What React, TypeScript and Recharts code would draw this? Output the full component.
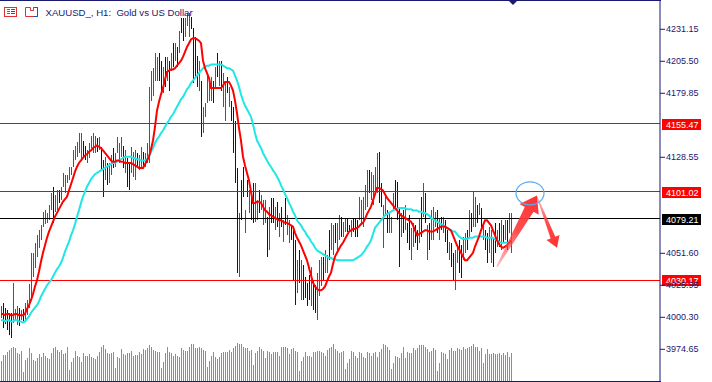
import {
  ComposedChart,
  Bar,
  Cell,
  Line,
  XAxis,
  YAxis,
  ReferenceLine,
  ReferenceDot,
} from 'recharts'

// XAUUSD H1 bars (oldest first)
const HIGH = [
  4009, 4012, 4008, 4006, 4004, 4004, 4028, 4007, 4009, 4008, 4006, 4007, 4012, 4014, 4027,
  4052, 4052, 4060, 4066, 4070, 4074, 4085, 4086, 4084, 4090, 4100, 4105, 4098, 4102, 4102,
  4105, 4116, 4114, 4114, 4121, 4121, 4134, 4138, 4141, 4148, 4148, 4142, 4138, 4134, 4140,
  4146, 4148, 4146, 4144, 4145, 4137, 4126, 4129, 4124, 4124, 4130, 4136, 4132, 4145, 4140,
  4145, 4138, 4134, 4128, 4124, 4137, 4133, 4134, 4132, 4130, 4137, 4133, 4132, 4140, 4185,
  4198, 4200, 4212, 4209, 4212, 4206, 4201, 4209, 4209, 4206, 4212, 4220, 4220, 4217, 4230,
  4240, 4240, 4240, 4244, 4244, 4241, 4232, 4225, 4210, 4206, 4190, 4169, 4172, 4196, 4190,
  4193, 4190, 4201, 4212, 4206, 4206, 4196, 4190, 4193, 4185, 4174, 4169, 4158, 4120, 4084,
  4110, 4121, 4086, 4110, 4102, 4100, 4108, 4108, 4094, 4102, 4098, 4094, 4094, 4081, 4089,
  4096, 4096, 4089, 4093, 4084, 4089, 4078, 4096, 4082, 4078, 4074, 4070, 4062, 4046, 4054,
  4046, 4042, 4033, 4028, 4034, 4041, 4030, 4026, 4036, 4046, 4049, 4049, 4054, 4050, 4070,
  4076, 4074, 4076, 4076, 4082, 4081, 4077, 4080, 4080, 4074, 4078, 4080, 4080, 4078, 4097,
  4094, 4097, 4106, 4118, 4118, 4117, 4114, 4121, 4132, 4133, 4108, 4090, 4098, 4086, 4084,
  4081, 4100, 4110, 4109, 4089, 4084, 4086, 4090, 4076, 4082, 4072, 4076, 4074, 4070, 4080,
  4097, 4108, 4100, 4074, 4076, 4086, 4089, 4085, 4086, 4080, 4081, 4081, 4078, 4070, 4061,
  4060, 4052, 4054, 4057, 4062, 4058, 4065, 4068, 4070, 4086, 4084, 4101, 4097, 4090, 4092,
  4088, 4076, 4070, 4068, 4073, 4070, 4065, 4076, 4070, 4076, 4078, 4074, 4078, 4078, 4084, 4084,
]
const LOW = [
  4000, 3992, 3995, 3990, 3986, 3984, 3996, 3997, 3994, 3993, 3998, 3997, 3998, 4002, 4008,
  4014, 4033, 4040, 4049, 4056, 4062, 4073, 4075, 4076, 4078, 4086, 4076, 4085, 4086, 4092,
  4094, 4105, 4100, 4108, 4110, 4114, 4121, 4126, 4129, 4132, 4126, 4128, 4126, 4124, 4128,
  4136, 4132, 4132, 4133, 4134, 4118, 4097, 4110, 4106, 4108, 4114, 4120, 4121, 4132, 4124,
  4129, 4120, 4116, 4105, 4102, 4116, 4113, 4110, 4121, 4118, 4121, 4120, 4121, 4124, 4124,
  4174, 4178, 4190, 4190, 4190, 4182, 4180, 4185, 4190, 4182, 4198, 4201, 4206, 4201, 4212,
  4228, 4222, 4225, 4234, 4225, 4231, 4188, 4193, 4185, 4182, 4145, 4148, 4161, 4172, 4174,
  4174, 4172, 4185, 4193, 4186, 4182, 4169, 4158, 4180, 4169, 4158, 4132, 4108, 4036, 4033,
  4078, 4097, 4068, 4097, 4084, 4078, 4076, 4077, 4078, 4084, 4086, 4074, 4076, 4049, 4054,
  4076, 4076, 4070, 4073, 4065, 4073, 4061, 4074, 4066, 4060, 4062, 4030, 4010, 4020, 4028,
  4014, 4014, 4016, 4009, 4014, 4009, 4006, 4004, 3998, 4017, 4025, 4030, 4036, 4036, 4046,
  4054, 4050, 4060, 4054, 4062, 4065, 4065, 4069, 4069, 4069, 4065, 4069, 4065, 4065, 4078,
  4074, 4073, 4086, 4089, 4100, 4094, 4090, 4102, 4100, 4092, 4089, 4056, 4082, 4068, 4068,
  4068, 4086, 4089, 4078, 4041, 4065, 4068, 4070, 4060, 4054, 4046, 4057, 4060, 4054, 4060,
  4065, 4081, 4076, 4046, 4054, 4062, 4062, 4073, 4068, 4062, 4070, 4068, 4061, 4052, 4046,
  4041, 4030, 4022, 4044, 4036, 4032, 4046, 4052, 4054, 4065, 4069, 4073, 4073, 4076, 4082,
  4070, 4062, 4054, 4044, 4052, 4044, 4041, 4052, 4057, 4057, 4054, 4060, 4062, 4054, 4068, 4052,
]
// 1 = bull bar, 0 = bear bar
const UP = [
  1, 0, 0, 0, 0, 0, 1, 1, 1, 0, 1, 0, 1, 1, 1,
  1, 1, 1, 1, 1, 1, 1, 1, 1, 1, 1, 0, 1, 1, 0,
  1, 1, 1, 1, 1, 1, 1, 1, 1, 1, 1, 0, 0, 1, 1,
  1, 1, 1, 0, 1, 0, 0, 1, 0, 1, 1, 0, 1, 1, 1,
  1, 0, 1, 0, 0, 1, 1, 1, 0, 1, 1, 0, 1, 1, 1,
  1, 1, 1, 1, 0, 0, 1, 0, 1, 0, 1, 0, 1, 0, 1,
  0, 0, 1, 1, 1, 0, 0, 0, 0, 1, 0, 1, 1, 1, 1,
  1, 0, 1, 0, 1, 0, 1, 1, 0, 1, 0, 0, 0, 0, 1,
  0, 0, 1, 0, 1, 0, 0, 1, 1, 0, 1, 1, 1, 0, 1,
  0, 0, 1, 0, 1, 0, 1, 0, 1, 1, 0, 0, 0, 1, 0,
  1, 0, 0, 0, 0, 1, 0, 0, 1, 1, 1, 0, 1, 1, 0,
  1, 1, 0, 1, 1, 0, 1, 1, 0, 0, 1, 0, 0, 0, 1,
  1, 1, 1, 1, 0, 1, 1, 1, 1, 0, 0, 1, 1, 0, 1,
  1, 1, 0, 0, 0, 1, 0, 1, 0, 0, 1, 1, 0, 0, 1,
  0, 1, 0, 1, 0, 1, 1, 1, 0, 1, 0, 1, 0, 0, 1,
  0, 0, 1, 1, 0, 0, 1, 1, 0, 1, 0, 1, 1, 0, 1,
  0, 1, 0, 0, 1, 1, 0, 0, 1, 0, 1, 0, 1, 0, 1, 1,
]
const VOLUME = [
  20, 26, 26, 29, 31, 33, 34, 33, 28, 27, 30, 9,
  21, 23, 33, 28, 21, 20, 23, 27, 24, 28, 25, 23, 22, 28, 33, 34, 31, 29, 31, 27, 28, 34, 11,
  19, 23, 30, 25, 24, 19, 28, 25, 25, 27, 24, 23, 22, 25, 29, 34, 36, 32, 28, 27, 28, 29, 13,
  24, 23, 32, 27, 26, 28, 28, 30, 25, 26, 26, 29, 27, 32, 31, 33, 36, 34, 31, 30, 29, 29, 13,
  19, 28, 34, 29, 28, 25, 27, 25, 24, 33, 31, 30, 30, 34, 37, 37, 33, 33, 34, 33, 31, 30, 14,
  20, 25, 29, 24, 22, 24, 28, 29, 29, 29, 31, 29, 33, 35, 38, 37, 37, 34, 33, 33, 30, 31, 16,
  28, 30, 34, 32, 30, 23, 30, 29, 27, 29, 29, 29, 25, 34, 34, 34, 33, 27, 32, 33, 30, 29, 10,
  20, 24, 29, 25, 25, 24, 29, 29, 30, 30, 29, 28, 25, 31, 33, 34, 37, 32, 30, 28, 29, 30, 12,
  18, 22, 30, 29, 25, 23, 29, 28, 24, 23, 29, 28, 25, 28, 29, 24, 29, 32, 37, 36, 34, 31, 12,
  18, 25, 24, 23, 28, 34, 23, 29, 28, 28, 33, 31, 33, 36, 36, 36, 34, 32, 29, 30, 33, 31, 10,
  18, 29, 28, 27, 22, 31, 33, 30, 30, 33, 32, 31, 34, 32, 33, 34, 35, 37, 34, 34, 30, 33, 18,
  27, 32, 27, 27, 28, 27, 27, 28, 26, 28, 26, 29, 24, 28,
]
// moving averages as drawn (red = fast, aqua = slow)
const MA_FAST = [
  4003, 4003, 4002, 4003, 4003, 4002, 4002, 4003, 4003, 4002, 4002, 4002, 4003, 4007, 4010,
  4014, 4019, 4025, 4030, 4037, 4045, 4052, 4058, 4064, 4069, 4073, 4077, 4081, 4084, 4087,
  4090, 4093, 4095, 4097, 4102, 4107, 4112, 4117, 4121, 4124, 4126, 4128, 4130, 4131, 4133,
  4134, 4136, 4137, 4138, 4137, 4136, 4134, 4132, 4130, 4128, 4126, 4125, 4125, 4126, 4126,
  4125, 4125, 4124, 4124, 4124, 4124, 4123, 4122, 4121, 4120, 4120, 4120, 4123, 4126, 4129,
  4135, 4142, 4153, 4166, 4173, 4179, 4184, 4191, 4197, 4198, 4199, 4199, 4200, 4202, 4204,
  4206, 4209, 4213, 4217, 4220, 4223, 4224, 4224, 4223, 4222, 4220, 4206, 4200, 4196, 4192,
  4184, 4184, 4184, 4184, 4184, 4184, 4186, 4189, 4189, 4189, 4186, 4182, 4174, 4164, 4152,
  4142, 4129, 4122, 4116, 4110, 4101, 4092, 4092, 4093, 4093, 4092, 4089, 4086, 4085, 4083,
  4082, 4081, 4080, 4079, 4078, 4078, 4077, 4076, 4076, 4075, 4074, 4073, 4068, 4064, 4061,
  4058, 4054, 4050, 4046, 4040, 4034, 4028, 4025, 4023, 4022, 4022, 4023, 4025, 4029, 4033,
  4036, 4043, 4049, 4052, 4055, 4058, 4060, 4063, 4066, 4069, 4070, 4071, 4071, 4072, 4073,
  4075, 4076, 4079, 4083, 4086, 4089, 4094, 4099, 4104, 4104, 4103, 4102, 4099, 4096, 4094,
  4092, 4090, 4088, 4086, 4084, 4082, 4081, 4080, 4079, 4078, 4077, 4074, 4070, 4066, 4067,
  4068, 4069, 4070, 4070, 4069, 4069, 4069, 4070, 4071, 4072, 4073, 4073, 4073, 4072, 4071,
  4070, 4066, 4062, 4058, 4055, 4052, 4049, 4046, 4046, 4048, 4050, 4052, 4057, 4061, 4065,
  4070, 4074, 4078, 4078, 4076, 4074, 4070, 4066, 4062, 4059, 4057, 4056, 4057, 4058, 4060, 4062,
]
const MA_SLOW = [
  3998, 3998, 3997, 3998, 3998, 3997, 3997, 3998, 3998, 3997, 3997, 3996, 3997, 3999, 4001,
  4004, 4006, 4008, 4010, 4013, 4017, 4020, 4023, 4026, 4028, 4030, 4033, 4036, 4039, 4041,
  4044, 4048, 4053, 4057, 4061, 4066, 4070, 4075, 4081, 4086, 4092, 4097, 4101, 4105, 4108,
  4111, 4113, 4115, 4116, 4117, 4118, 4119, 4120, 4121, 4122, 4123, 4124, 4124, 4125, 4126,
  4127, 4128, 4129, 4129, 4129, 4129, 4128, 4128, 4127, 4127, 4126, 4126, 4126, 4127, 4129,
  4133, 4136, 4140, 4143, 4145, 4148, 4150, 4153, 4156, 4158, 4161, 4163, 4166, 4169, 4172,
  4175, 4177, 4180, 4183, 4185, 4188, 4190, 4192, 4194, 4196, 4198, 4200, 4201, 4202, 4202,
  4203, 4203, 4203, 4203, 4203, 4203, 4202, 4201, 4200, 4200, 4199, 4198, 4194, 4190, 4185,
  4179, 4174, 4170, 4167, 4164, 4161, 4155, 4148, 4142, 4139, 4136, 4132, 4129, 4126, 4123,
  4121, 4118, 4116, 4113, 4110, 4106, 4103, 4099, 4096, 4092, 4089, 4085, 4082, 4078, 4076,
  4074, 4071, 4069, 4066, 4064, 4061, 4059, 4056, 4054, 4053, 4052, 4051, 4050, 4049, 4048,
  4048, 4047, 4047, 4046, 4046, 4046, 4046, 4046, 4046, 4046, 4046, 4046, 4047, 4048, 4049,
  4050, 4052, 4054, 4057, 4059, 4062, 4067, 4072, 4074, 4076, 4078, 4080, 4082, 4083, 4084,
  4085, 4086, 4087, 4087, 4088, 4088, 4088, 4088, 4087, 4087, 4087, 4086, 4086, 4086, 4085,
  4085, 4084, 4084, 4083, 4082, 4080, 4079, 4078, 4077, 4076, 4075, 4074, 4073, 4072, 4071,
  4070, 4069, 4069, 4067, 4065, 4064, 4063, 4063, 4063, 4064, 4064, 4064, 4065, 4065, 4065,
  4065, 4065, 4065, 4064, 4064, 4064, 4064, 4063, 4062, 4061, 4060, 4060, 4060, 4060, 4060, 4060,
]

const PRICE_TICKS = [4231.15, 4205.5, 4179.85, 4128.55, 4051.6, 4025.95, 4000.3, 3974.65]
const LEVELS = [4155.47, 4101.02, 4079.21, 4030.17]
const LEVEL_COLORS = ['#ff0000', '#ff0000', '#000000', '#ff0000']
const PRICE_DOMAIN = [3949.24, 4253.83]
const SLOTS = 330 // bars + empty space up to the price scale

// drawn objects: [bar index, price]
const ARROW_UP = [[248, 4041], [268, 4098]]
const ARROW_DOWN = [[268, 4097], [278, 4056]]
const CIRCLE = [265, 4099.7]

const NAVY = '#191970'
const BULL = '#dc143c'
const BEAR = '#0000cd'
const VOL_GREEN = '#32cd32'
const FONT = 'Liberation Sans, Arial, sans-serif'

const rows = Array.from({ length: SLOTS }, (_, i) =>
  i < HIGH.length
    ? {
        i,
        hl: [LOW[i], HIGH[i]],
        up: UP[i],
        vol: VOLUME[i],
        fast: MA_FAST[i],
        slow: MA_SLOW[i],
      }
    : { i },
)

// 1px sticks snapped to whole pixels
const Stick = (p: any) => {
  if (p.x == null || p.y == null || p.height == null || isNaN(p.height)) return null
  const y = Math.min(p.y, p.y + p.height)
  const h = Math.max(Math.abs(p.height), 1)
  return (
    <rect
      x={Math.floor(p.x + (p.width || 1) / 2)}
      y={y}
      width={1}
      height={h}
      fill={p.fill}
      shapeRendering="crispEdges"
    />
  )
}

const levelLabel = (value: number, color: string) => (props: any) => {
  const vb = props.viewBox
  if (!vb) return null
  const x = vb.x + vb.width + 2
  const y = Math.round(vb.y)
  return (
    <g>
      <rect x={x} y={y - 5} width={39} height={11} fill={color} />
      <text x={x + 4} y={y + 4} fill="#ffffff" fontSize={9} fontFamily={FONT}>
        {value.toFixed(2)}
      </text>
    </g>
  )
}

function arrowShape(id: string, tailW: number, neckW: number, headW: number, headL: number) {
  return (p: any) => {
    const { x1, y1, x2, y2 } = p
    if (x1 == null || x2 == null) return null
    const dx = x2 - x1
    const dy = y2 - y1
    const len = Math.hypot(dx, dy) || 1
    const ux = dx / len
    const uy = dy / len
    const nx = -uy
    const ny = ux
    const bx = x2 - ux * headL
    const by = y2 - uy * headL
    const pts = [
      [x1 + (nx * tailW) / 2, y1 + (ny * tailW) / 2],
      [bx + (nx * neckW) / 2, by + (ny * neckW) / 2],
      [bx + (nx * headW) / 2, by + (ny * headW) / 2],
      [x2, y2],
      [bx - (nx * headW) / 2, by - (ny * headW) / 2],
      [bx - (nx * neckW) / 2, by - (ny * neckW) / 2],
      [x1 - (nx * tailW) / 2, y1 - (ny * tailW) / 2],
    ]
    return (
      <g>
        <defs>
          <linearGradient id={id} gradientUnits="userSpaceOnUse" x1={x1} y1={y1} x2={x2} y2={y2}>
            <stop offset="0%" stopColor="#ff5a5a" stopOpacity={0.4} />
            <stop offset="50%" stopColor="#ff3a3a" stopOpacity={0.9} />
            <stop offset="100%" stopColor="#ff3030" stopOpacity={1} />
          </linearGradient>
        </defs>
        <polygon points={pts.map((q) => q.join(',')).join(' ')} fill={`url(#${id})`} />
      </g>
    )
  }
}

const Circle = (p: any) =>
  p.cx == null ? null : (
    <ellipse cx={p.cx - 1} cy={p.cy} rx={14} ry={11.5} fill="none" stroke="#5aa9f0" strokeWidth={1.2} />
  )

const ShiftMark = (p: any) =>
  p.cx == null ? null : (
    <polygon points={`${p.cx - 5},0 ${p.cx + 5},0 ${p.cx},5`} fill={NAVY} />
  )

export default function App() {
  return (
    <div style={{ position: 'absolute', left: 0, top: 0, width: 712, height: 382, background: '#fff' }}>
      <ComposedChart
        width={712}
        height={382}
        data={rows}
        margin={{ top: 1, right: 0, bottom: 1, left: 0 }}
      >
        <XAxis xAxisId="p" dataKey="i" hide />
        <XAxis xAxisId="v" dataKey="i" hide />
        <YAxis
          yAxisId="p"
          orientation="right"
          width={52}
          type="number"
          domain={PRICE_DOMAIN}
          allowDataOverflow
          ticks={PRICE_TICKS}
          interval={0}
          tickSize={5}
          tickMargin={1}
          axisLine={{ stroke: NAVY }}
          tickLine={{ stroke: NAVY }}
          tick={{ fill: NAVY, fontSize: 9, fontFamily: FONT }}
          tickFormatter={(v: number) => v.toFixed(2)}
        />
        <YAxis yAxisId="v" hide domain={[0, 380]} allowDataOverflow />
        <Bar
          xAxisId="v"
          yAxisId="v"
          dataKey="vol"
          barSize={1}
          fill={VOL_GREEN}
          shape={Stick}
          isAnimationActive={false}
        />
        <Bar
          xAxisId="p"
          yAxisId="p"
          dataKey="hl"
          barSize={1}
          shape={Stick}
          isAnimationActive={false}
        >
          {rows.map((r: any) => (
            <Cell key={r.i} fill={r.up ? BULL : BEAR} />
          ))}
        </Bar>
        {LEVELS.map((lv, k) => (
          <ReferenceLine
            key={lv}
            xAxisId="p"
            yAxisId="p"
            y={lv}
            stroke={LEVEL_COLORS[k]}
            strokeWidth={1}
            shapeRendering="crispEdges"
            label={levelLabel(lv, LEVEL_COLORS[k])}
          />
        ))}
        <Line
          xAxisId="p"
          yAxisId="p"
          dataKey="slow"
          stroke="#22e6e6"
          strokeWidth={2}
          dot={false}
          isAnimationActive={false}
        />
        <Line
          xAxisId="p"
          yAxisId="p"
          dataKey="fast"
          stroke="#ff0000"
          strokeWidth={2}
          dot={false}
          isAnimationActive={false}
        />
        <ReferenceLine
          xAxisId="p"
          yAxisId="p"
          segment={[
            { x: ARROW_UP[0][0], y: ARROW_UP[0][1] },
            { x: ARROW_UP[1][0], y: ARROW_UP[1][1] },
          ]}
          shape={arrowShape('arrowUpGrad', 1.5, 10, 22, 16)}
        />
        <ReferenceLine
          xAxisId="p"
          yAxisId="p"
          segment={[
            { x: ARROW_DOWN[0][0], y: ARROW_DOWN[0][1] },
            { x: ARROW_DOWN[1][0], y: ARROW_DOWN[1][1] },
          ]}
          shape={arrowShape('arrowDownGrad', 1, 5, 14, 11)}
        />
        <ReferenceDot xAxisId="p" yAxisId="p" x={CIRCLE[0]} y={CIRCLE[1]} shape={Circle} />
        <ReferenceDot
          xAxisId="p"
          yAxisId="p"
          x={HIGH.length}
          y={PRICE_DOMAIN[1]}
          shape={ShiftMark}
        />
      </ComposedChart>
      {/* chart frame */}
      <div style={{ position: 'absolute', left: 0, top: 0, width: 661, height: 1, background: NAVY }} />
      <div style={{ position: 'absolute', left: 0, top: 381, width: 661, height: 1, background: NAVY }} />
      <svg
        width={200}
        height={20}
        style={{ position: 'absolute', left: 0, top: 0, pointerEvents: 'none' }}
      >
        <rect x={4.5} y={7.5} width={12} height={9} fill="#fff" stroke="#e03030" />
        <rect x={7} y={9} width={3} height={1} fill="#e03030" />
        <rect x={7} y={11} width={3} height={1} fill="#e03030" />
        <rect x={7} y={13} width={3} height={1} fill="#e03030" />
        <rect x={11} y={9} width={4} height={1} fill="#2050c0" />
        <rect x={11} y={11} width={4} height={1} fill="#2050c0" />
        <rect x={11} y={13} width={4} height={1} fill="#2050c0" />
        <path d="M25.5 7.5 h5 v3 h3 v-3 h4 v9 h-12 z" fill="#fff" stroke="#e03030" />
        <path d="M33.5 7.5 h4 v9 h-4" fill="none" stroke="#2050c0" />
        <text
          x={45.5}
          y={15.7}
          fill={NAVY}
          fontSize={9.6}
          fontFamily={FONT}
          style={{ whiteSpace: 'pre' }}
        >
          {'XAUUSD_, H1:  Gold vs US Dollar'}
        </text>
      </svg>
    </div>
  )
}
